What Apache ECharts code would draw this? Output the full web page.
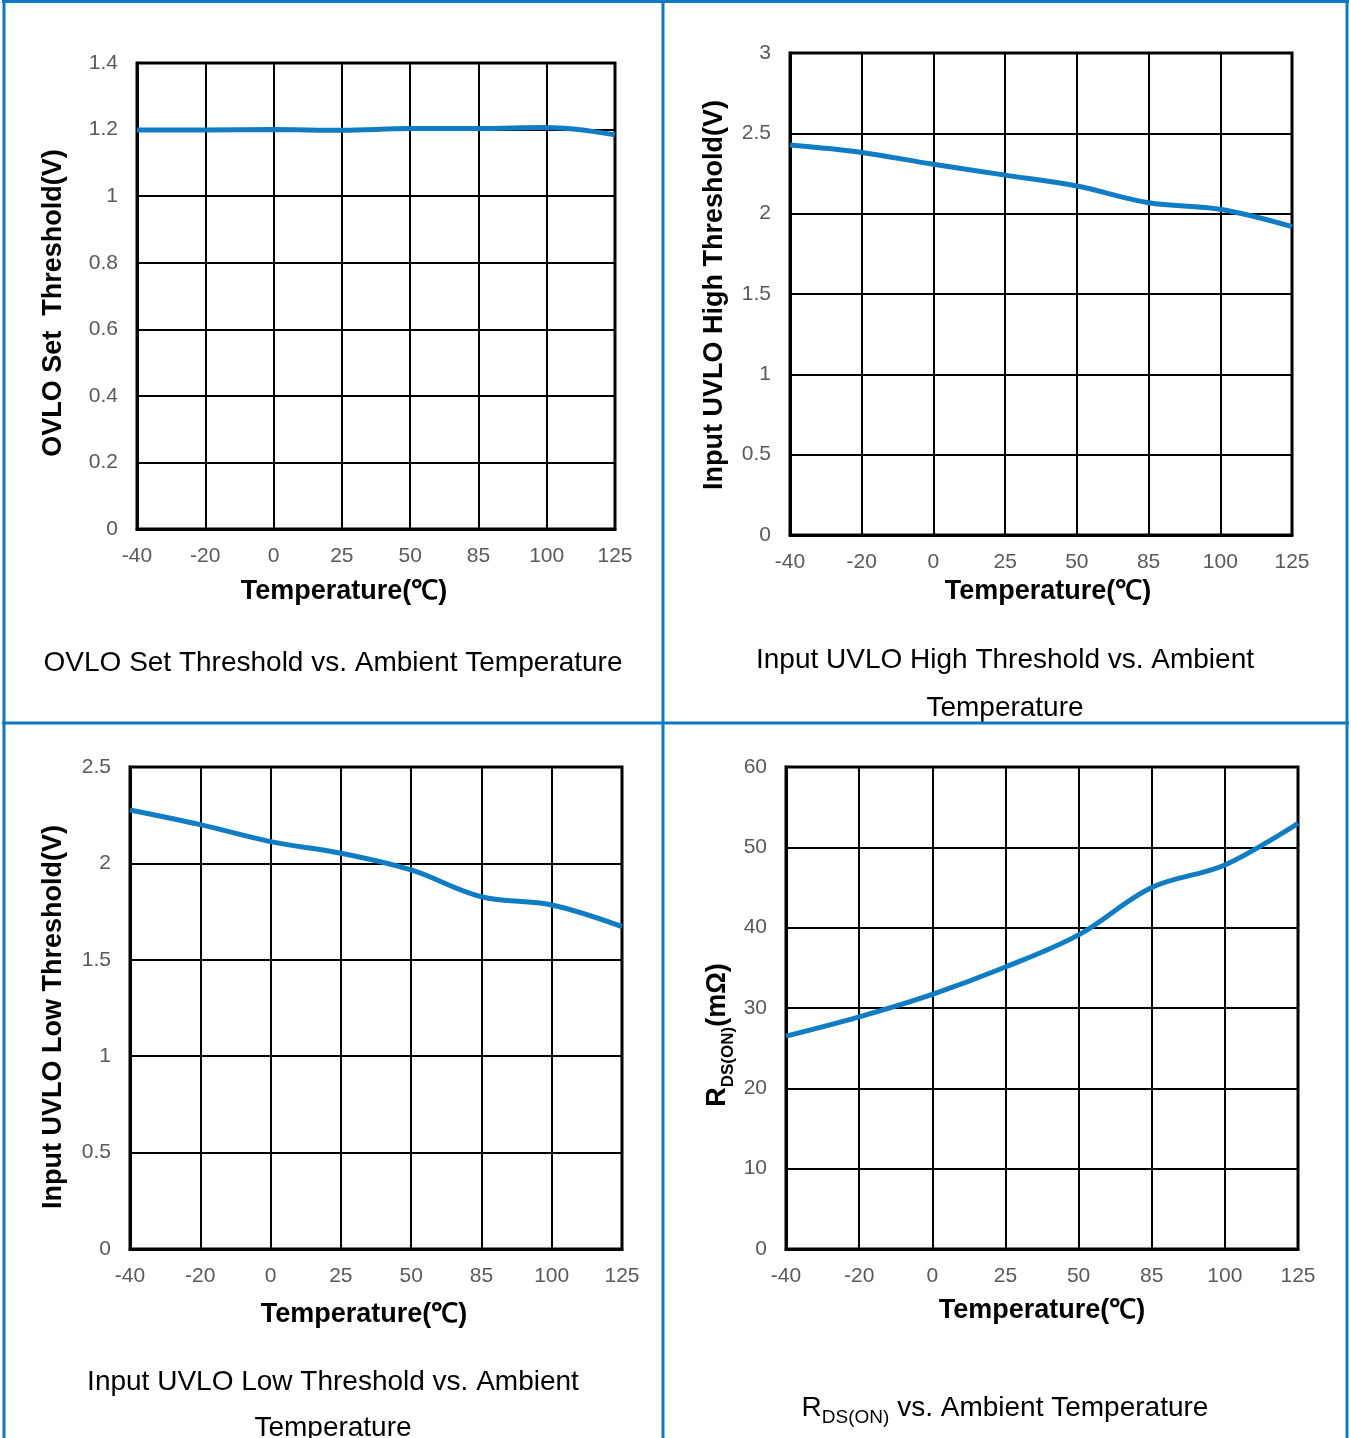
<!DOCTYPE html>
<html>
<head>
<meta charset="utf-8">
<script src="https://cdn.jsdelivr.net/npm/echarts@6/dist/echarts.min.js"></script>
<style>
html,body{margin:0;padding:0;background:#fff;}
#main{width:1351px;height:1438px;}
</style>
</head>
<body>
<div id="main"></div>
<script>
var categories = ['-40', '-20', '0', '25', '50', '85', '100', '125'];
var ovloSet = [1.199, 1.199, 1.200, 1.198, 1.203, 1.203, 1.206, 1.184];
var uvloHigh = [2.427, 2.381, 2.307, 2.240, 2.172, 2.068, 2.027, 1.919];
var uvloLow = [2.277, 2.201, 2.113, 2.053, 1.966, 1.827, 1.784, 1.672];
var rdsOn = [26.5, 28.9, 31.7, 35.1, 39.1, 45.0, 47.8, 53.0];

var yAxes = [
  {min: 0, max: 1.4, interval: 0.2},
  {min: 0, max: 3, interval: 0.5},
  {min: 0, max: 2.5, interval: 0.5},
  {min: 0, max: 60, interval: 10}
];
var seriesData = [ovloSet, uvloHigh, uvloLow, rdsOn];

var grids = [
  {left: 137, top: 63, width: 478, height: 466},
  {left: 790, top: 53, width: 502, height: 482},
  {left: 130, top: 767, width: 492, height: 482},
  {left: 786, top: 767, width: 512, height: 482}
];

var LINE = '#0f7cc3';
var BLUE = '#1177c0';
var TICK = '#595959';
var FONT = 'Liberation Sans, Arial, sans-serif';

var option = {
  backgroundColor: '#fff',
  animation: false,
  grid: grids.map(function (g) {
    return Object.assign({show: true, borderColor: '#000', borderWidth: 3, backgroundColor: 'transparent'}, g);
  }),
  xAxis: grids.map(function (g, i) {
    return {
      type: 'category', gridIndex: i, data: categories, boundaryGap: false,
      axisLine: {show: true, lineStyle: {color: '#000', width: 3}},
      axisTick: {show: false},
      axisLabel: {interval: 0, margin: 17, fontSize: 21, color: TICK, fontFamily: FONT},
      splitLine: {show: true, interval: 0, lineStyle: {color: '#000', width: 2}}
    };
  }),
  yAxis: yAxes.map(function (y, i) {
    return {
      type: 'value', gridIndex: i, min: y.min, max: y.max, interval: y.interval,
      axisLine: {show: true, lineStyle: {color: '#000', width: 3}},
      axisTick: {show: false},
      axisLabel: {margin: 19, fontSize: 21, color: TICK, fontFamily: FONT, padding: [2, 0, 0, 0]},
      splitLine: {show: true, lineStyle: {color: '#000', width: 2}}
    };
  }),
  series: seriesData.map(function (d, i) {
    return {
      type: 'line', xAxisIndex: i, yAxisIndex: i, data: d, smooth: 0.35,
      showSymbol: false, symbol: 'none',
      lineStyle: {color: LINE, width: 5}, z: 5
    };
  }),
  graphic: []
};

var G = option.graphic;
function bline(x1, y1, x2, y2) {
  G.push({type: 'line', shape: {x1: x1, y1: y1, x2: x2, y2: y2}, style: {stroke: BLUE, lineWidth: 3}, z: 100});
}
bline(2, 1.5, 1349, 1.5);
bline(4, 0, 4, 1438);
bline(663, 0, 663, 1438);
bline(1347, 0, 1347, 1438);
bline(2, 723, 1349, 723);

function txt(x, y, text, size, bold, rot) {
  G.push({
    type: 'text', x: x, y: y, rotation: rot ? Math.PI / 2 : 0,
    style: {text: text, fontFamily: FONT, fontSize: size, fontWeight: bold ? 'bold' : 'normal',
      fill: '#000', textAlign: 'center', textVerticalAlign: 'middle'}
  });
}
// x axis titles
txt(344, 592, 'Temperature(℃)', 27, true);
txt(1048, 592, 'Temperature(℃)', 27, true);
txt(364, 1315, 'Temperature(℃)', 27, true);
txt(1042, 1311, 'Temperature(℃)', 27, true);
// y axis titles
txt(54, 303, 'OVLO Set  Threshold(V)', 27, true, true);
txt(715, 295, 'Input UVLO High Threshold(V)', 27, true, true);
txt(54, 1017, 'Input UVLO Low Threshold(V)', 27, true, true);
G.push({
  type: 'text', x: 715, y: 1035, rotation: Math.PI / 2,
  style: {
    text: '{a|R}{b|DS(ON)}{a|(mΩ)}', textAlign: 'center', textVerticalAlign: 'middle',
    rich: {
      a: {fontFamily: FONT, fontSize: 27, fontWeight: 'bold', fill: '#000', verticalAlign: 'bottom', lineHeight: 32},
      b: {fontFamily: FONT, fontSize: 17, fontWeight: 'bold', fill: '#000', verticalAlign: 'bottom', lineHeight: 32, padding: [0, 0, -6, 0]}
    }
  }
});
// captions
txt(333, 663, 'OVLO Set Threshold vs. Ambient Temperature', 28, false);
txt(1005, 660, 'Input UVLO High Threshold vs. Ambient', 28, false);
txt(1005, 708, 'Temperature', 28, false);
txt(333, 1382, 'Input UVLO Low Threshold vs. Ambient', 28, false);
txt(333, 1428, 'Temperature', 28, false);
G.push({
  type: 'text', x: 1005, y: 1406,
  style: {
    text: '{a|R}{b|DS(ON)}{a| vs. Ambient Temperature}', textAlign: 'center', textVerticalAlign: 'middle',
    rich: {
      a: {fontFamily: FONT, fontSize: 28, fill: '#000', verticalAlign: 'bottom', lineHeight: 32},
      b: {fontFamily: FONT, fontSize: 19, fill: '#000', verticalAlign: 'bottom', lineHeight: 32, padding: [0, 0, -5, 0]}
    }
  }
});

var chart = echarts.init(document.getElementById('main'), null, {renderer: 'canvas'});
chart.setOption(option);
</script>
</body>
</html>
